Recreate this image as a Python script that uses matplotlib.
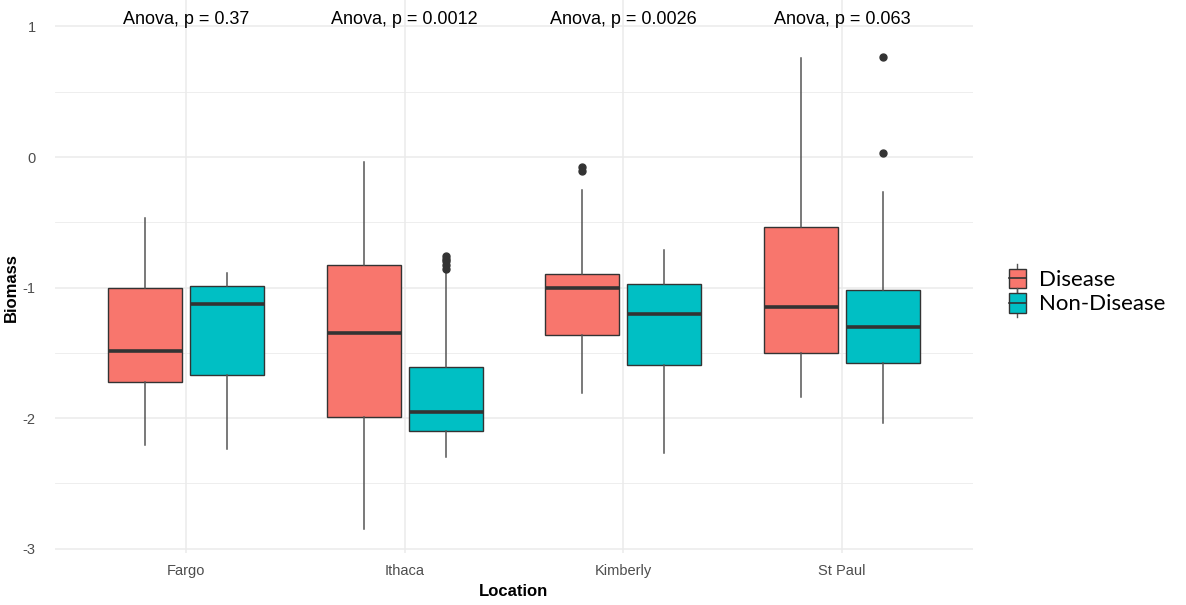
import matplotlib
matplotlib.use("Agg")
import matplotlib.pyplot as plt
from matplotlib.legend_handler import HandlerBase
from matplotlib.patches import Rectangle
from matplotlib.lines import Line2D
import numpy as np

plt.rcParams['font.family'] = ['Liberation Sans', 'DejaVu Sans']

locations = ["Fargo", "Ithaca", "Kimberly", "St Paul"]
groups = ["Disease", "Non-Disease"]
colors = ["#F8766D", "#00BFC4"]
p_labels = ["Anova, p = 0.37", "Anova, p = 0.0012", "Anova, p = 0.0026", "Anova, p = 0.063"]

# box statistics per location: [whislo, q1, median, q3, whishi]
disease_stats = [
    [-2.21, -1.72, -1.49, -1.00, -0.47],
    [-2.85, -1.99, -1.35, -0.83, -0.04],
    [-1.81, -1.36, -1.00, -0.90, -0.25],
    [-1.84, -1.50, -1.15, -0.54, 0.76],
]
disease_outliers = [[], [], [-0.08, -0.11], []]

nondisease_stats = [
    [-2.24, -1.67, -1.13, -0.99, -0.89],
    [-2.30, -2.10, -1.95, -1.61, -0.88],
    [-2.27, -1.59, -1.20, -0.97, -0.71],
    [-2.04, -1.58, -1.30, -1.02, -0.27],
]
nondisease_outliers = [[], [-0.76, -0.78, -0.80, -0.83, -0.86], [], [0.77, 0.03]]

fig = plt.figure(figsize=(11.86, 6.05), dpi=100)
ax = fig.add_axes([55/1186, 52/605, (973-55)/1186, 553/605])

def make_stats(stats, outliers):
    out = []
    for s, o in zip(stats, outliers):
        out.append(dict(whislo=s[0], q1=s[1], med=s[2], q3=s[3], whishi=s[4], fliers=o))
    return out

pos = np.arange(1, len(locations) + 1)
offset = 0.1875
width = 0.34
edge = "#333333"
for stats, outl, col, off in [(disease_stats, disease_outliers, colors[0], -offset),
                              (nondisease_stats, nondisease_outliers, colors[1], offset)]:
    ax.bxp(make_stats(stats, outl), positions=pos + off, widths=width, patch_artist=True,
           showcaps=False,
           boxprops=dict(facecolor=col, edgecolor=edge, linewidth=1.0),
           medianprops=dict(color=edge, linewidth=2.6, solid_capstyle='butt'),
           whiskerprops=dict(color="#555555", linewidth=1.1),
           flierprops=dict(marker='o', markerfacecolor=edge, markeredgecolor=edge, markersize=5),
           zorder=3)

ax.set_xlim(0.4, 4.6)
ax.set_ylim(-3.034, 1.203)
ax.set_xticks(pos)
ax.set_xticklabels(locations)
ax.set_yticks([-3, -2, -1, 0, 1])
ax.set_yticklabels(["-3", "-2", "-1", "0", "1"])
ax.set_yticks([-2.5, -1.5, -0.5, 0.5], minor=True)
ax.grid(True, which='major', color="#EBEBEB", linewidth=1.1, zorder=0)
ax.grid(True, which='minor', axis='y', color="#EBEBEB", linewidth=0.6, zorder=0)
ax.set_axisbelow(True)
for sp in ax.spines.values():
    sp.set_visible(False)
ax.tick_params(axis='both', which='both', length=0, labelsize=10.5, labelcolor="#4D4D4D")
ax.tick_params(axis='x', pad=8)
ax.tick_params(axis='y', pad=14)

ax.set_xlabel("Location", fontsize=12, fontweight='bold', labelpad=4)
ax.set_ylabel("Biomass", fontsize=12, fontweight='bold')
ax.yaxis.set_label_coords((19 - 55) / 918, (553 - 288) / 553)

for x, lab in zip(pos, p_labels):
    ax.text(x, 1.05, lab, ha='center', va='center', fontsize=13, color='black')

class BoxHandler(HandlerBase):
    def __init__(self, color):
        super().__init__()
        self.color = color
    def create_artists(self, legend, orig_handle, xdescent, ydescent, width, height, fontsize, trans):
        w = height * 1.1
        x0 = (width - w) / 2 - xdescent
        y0 = -ydescent - height * 0.15
        h = height * 1.25
        rect = Rectangle((x0, y0), w, h, facecolor=self.color, edgecolor=edge, linewidth=1.0, transform=trans)
        xm = x0 + w / 2
        med = Line2D([x0, x0 + w], [y0 + h / 2] * 2, color=edge, linewidth=1.2, transform=trans)
        wt = Line2D([xm, xm], [y0 + h, y0 + h + height * 0.3], color="#555555", linewidth=1.0, transform=trans)
        wb = Line2D([xm, xm], [y0, y0 - height * 0.3], color="#555555", linewidth=1.0, transform=trans)
        return [wt, wb, rect, med]

h1 = Rectangle((0, 0), 1, 1)
h2 = Rectangle((0, 0), 1, 1)
leg = fig.legend([h1, h2], groups, loc='center left', bbox_to_anchor=(986/1186, 1 - 292/605),
                 frameon=False, prop=dict(family=['Lato', 'DejaVu Sans'], size=16),
                 handler_map={h1: BoxHandler(colors[0]), h2: BoxHandler(colors[1])},
                 handlelength=1.0, handletextpad=0.5, labelspacing=0.2)

fig.savefig("out.png", dpi=100)
